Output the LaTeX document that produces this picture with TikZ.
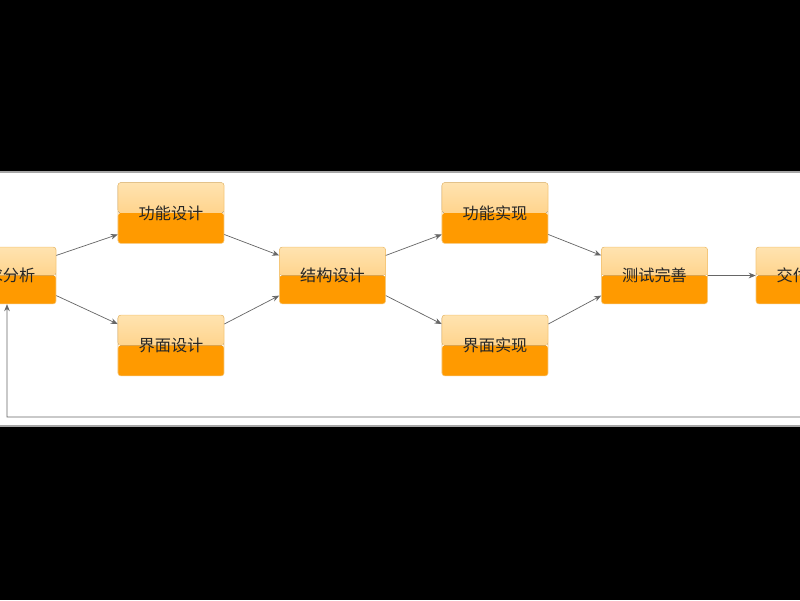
\documentclass[tikz,border=0pt]{standalone}
\usepackage{fontspec}
\setmainfont{Noto Sans CJK SC}
\usetikzlibrary{arrows.meta}
\usetikzlibrary{calc}
\usetikzlibrary{positioning}
\definecolor{boxtop}{HTML}{FFE3B0}
\definecolor{boxmid}{HTML}{FFC56A}
\definecolor{boxlow}{HTML}{FF9A00}
\definecolor{boxline}{HTML}{F5C77A}
\tikzset{
	phase/.style={rectangle, rounded corners=2pt, minimum width=2.65cm, minimum height=1.42cm,
		draw=boxline, font=\fontsize{11.5}{13}\selectfont, text=black!85,
		path picture={
			\fill[top color=boxtop, bottom color=boxmid]
				(path picture bounding box.north west) rectangle (path picture bounding box.east);
			\fill[boxlow]
				(path picture bounding box.west) rectangle (path picture bounding box.south east);
		}},
	tall/.style={minimum height=1.52cm},
	flow/.style={draw=black!60, line width=0.5pt, -{Stealth[length=5pt, width=4pt]}}
}
\begin{document}
\begin{tikzpicture}[x=0.025cm, y=-0.025cm]
	\clip (0,0) rectangle (800,600);
	\fill[black] (0,0) rectangle (800,600);
	\fill[white] (0,172) rectangle (800,426);
	\draw[gray!70, line width=1pt] (0,172) -- (800,172) (0,426) -- (800,426);

	\node[phase] (xq) at (3,275.5) {需求分析};
	\node[phase, tall] (gs) at (171,213) {功能设计};
	\node[phase, tall] (js) at (171,345.5) {界面设计};
	\node[phase] (jg) at (332.5,275.5) {结构设计};
	\node[phase, tall] (gx) at (495,213) {功能实现};
	\node[phase, tall] (jx) at (495,345.5) {界面实现};
	\node[phase] (cs) at (654.5,275.5) {测试完善};
	\node[phase] (jf) at (809,275.5) {交付使用};

	% forward flow
	\draw[flow] ($(xq.north east)!0.15!(xq.south east)$) -- ($(gs.north west)!0.85!(gs.south west)$);
	\draw[flow] ($(xq.north east)!0.85!(xq.south east)$) -- ($(js.north west)!0.15!(js.south west)$);
	\draw[flow] ($(gs.north east)!0.85!(gs.south east)$) -- ($(jg.north west)!0.15!(jg.south west)$);
	\draw[flow] ($(js.north east)!0.15!(js.south east)$) -- ($(jg.north west)!0.85!(jg.south west)$);
	\draw[flow] ($(jg.north east)!0.15!(jg.south east)$) -- ($(gx.north west)!0.85!(gx.south west)$);
	\draw[flow] ($(jg.north east)!0.85!(jg.south east)$) -- ($(jx.north west)!0.15!(jx.south west)$);
	\draw[flow] ($(gx.north east)!0.85!(gx.south east)$) -- ($(cs.north west)!0.15!(cs.south west)$);
	\draw[flow] ($(jx.north east)!0.15!(jx.south east)$) -- ($(cs.north west)!0.85!(cs.south west)$);
	\draw[flow] (cs) -- (jf);
	% feedback
	\draw[flow] (jf.south) |- (7,417) -- ([xshift=0.1cm]xq.south);
\end{tikzpicture}
\end{document}
